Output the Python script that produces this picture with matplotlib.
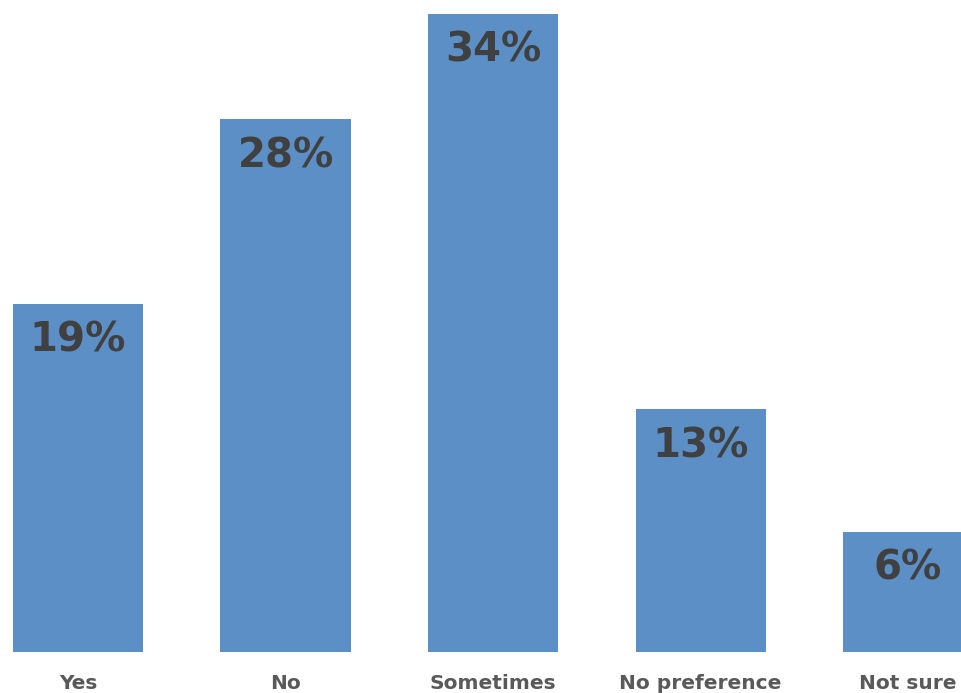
import matplotlib.pyplot as plt
import numpy as np

# Survey answers (share of respondents, %)
categories = ['Yes', 'No', 'Sometimes', 'No preference', 'Not sure']
values = [18.5, 28.3, 33.9, 12.9, 6.4]
labels = ['19%', '28%', '34%', '13%', '6%']

fig = plt.figure(figsize=(9.61, 6.93), dpi=100)
ax = fig.add_axes([0, 41 / 693, 1, 652 / 693])

x = np.arange(len(categories))
bars = ax.bar(x, values, width=0.627, color='#5B8FC5')

# value labels inside the top of each bar
for b, lab in zip(bars, labels):
    ax.annotate(lab, (b.get_x() + b.get_width() / 2, b.get_height()),
                xytext=(0, -37), textcoords='offset pixels',
                ha='center', va='center', fontsize=29, fontweight='bold',
                color='#404040')

ax.set_xlim(-0.376, 4.255)
ax.set_ylim(0, 34.64)
ax.set_xticks(x)
ax.set_xticklabels(categories, fontsize=14.5, fontweight='bold', color='#595959')
ax.tick_params(axis='x', length=0, pad=16)
ax.set_yticks([])
for s in ax.spines.values():
    s.set_visible(False)

fig.savefig('out.png', dpi=100)
